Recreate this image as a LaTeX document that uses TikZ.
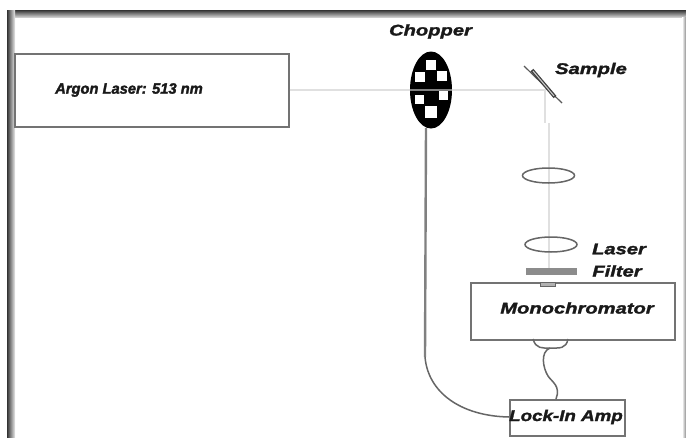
\documentclass[tikz,border=0pt]{standalone}
\usepackage{fontspec}
\setmainfont{Liberation Sans}
\newfontfamily\widefont[FakeStretch=1.3,FakeBold=1.8]{Liberation Sans Bold Italic}
\newfontfamily\amfont[FakeStretch=1.21,FakeBold=1.8]{Liberation Sans Bold Italic}
\newfontfamily\arfont[FakeStretch=0.98,FakeBold=1.8]{Liberation Sans Bold Italic}
\usetikzlibrary{shapes.geometric}
\tikzset{
 x=1pt,y=-1pt,
 box/.style={draw=black!55,line width=1.7pt,inner sep=0pt,fill=white},
 lab/.style={font=\widefont\fontsize{15.5}{17}\selectfont,text=black!90,inner sep=0pt},
 beam/.style={draw=black!12,line width=2.2pt},
 lens/.style={draw=black!60,line width=1.5pt,ellipse,minimum width=52pt,minimum height=15pt,inner sep=0pt},
 wire/.style={draw=black!50,line width=2.4pt},
 thinwire/.style={draw=black!60,line width=1.5pt},
}
\begin{document}
\begin{tikzpicture}
\useasboundingbox (0,0) rectangle (686,437);
\fill[white] (0,0) rectangle (686,437);
% frame
\shade[top color=black!80,bottom color=black!20] (7,10) rectangle (686,17);
\shade[left color=black!80,right color=black!8] (7,10) rectangle (15,437);
\shade[left color=white,right color=black!45] (682,17) rectangle (686,437);
% boxes
\node[box,minimum width=274pt,minimum height=73pt,anchor=north west] (laser) at (14,53) {};
\node[lab,font=\arfont\fontsize{15}{17}\selectfont] at (129,90) {Argon Laser: 513 nm};
\node[box,minimum width=204pt,minimum height=57pt,anchor=north west] (mono) at (470,282) {};
\node[lab] at (577,308) {Monochromator};
\node[box,minimum width=115pt,minimum height=36pt,anchor=north west] (amp) at (509,399) {};
\node[lab,font=\amfont\fontsize{15.5}{17}\selectfont] at (566,417) {Lock-In Amp};
% chopper
\node[ellipse,fill=black,minimum width=42pt,minimum height=77pt,inner sep=0pt] (chop) at (431,90) {};
\foreach \a/\b/\s in {431/65/10,420/77/10,442/76/10,419/99/9,443/95/9,431/112/12}
  \fill[white] (\a-\s/2,\b-\s/2) rectangle (\a+\s/2,\b+\s/2);
\node[lab] at (430.5,31.5) {Chopper};
% sample and beam
\coordinate (turn) at (545,90);
\coordinate (jog) at (545,123);
\coordinate (jog2) at (549,123);
\coordinate (beamend) at (549,268);
\draw[beam] (laser.east |- turn) -- (chop.west |- turn);
\draw[beam] (chop.east |- turn) -- (turn) -- (jog);
\draw[beam] (jog2) -- (beamend);
\draw[draw=black!50,line width=2.4pt] (chop.west |- turn) -- (chop.east |- turn);
\draw[draw=black!65,line width=1.2pt] (524,66) -- (562,103);
\draw[draw=black!75,line width=3.6pt] (532,70) -- (555,97);
\draw[draw=black!20,line width=1pt] (533,71) -- (554,96);
\node[lab] at (591,70) {Sample};
% lens
\node[lens] (l1) at (548.5,175.5) {};
\node[lens] (l2) at (551,244.5) {};
\node[lab] at (619,249) {Laser};
\fill[black!45] (526,268) rectangle (577,275);
\node[lab] at (617,271) {Filter};
\draw[black!60,fill=black!30,line width=.8pt] (540,282) rectangle (555,286);
% detector
\draw[thinwire] (533,339) .. controls (536,349) and (542,348) .. (550,348) .. controls (560,348) and (566,349) .. (568,339);
\draw[thinwire] (550,348) .. controls (540,352) and (543,368) .. (548,376) .. controls (552,382) and (561,386) .. (556,399);
% chopper wire
\draw[wire] (426,128) -- (425,357);
\draw[thinwire] (425,357) .. controls (428,392) and (460,416) .. (509,417);
\end{tikzpicture}
\end{document}
